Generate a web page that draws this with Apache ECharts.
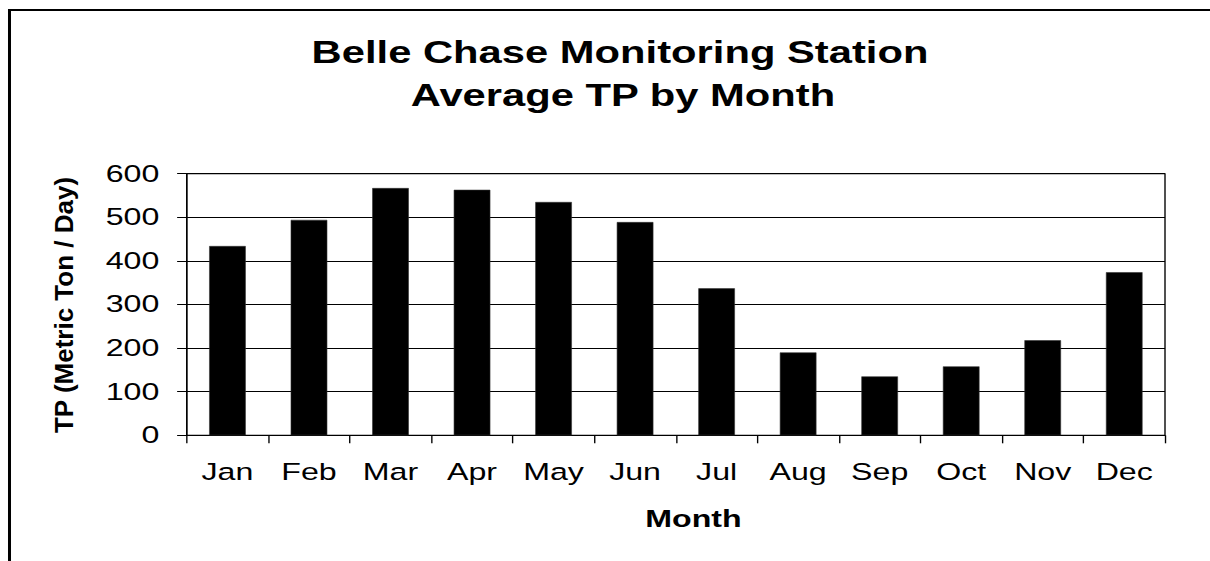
<!DOCTYPE html>
<html>
<head>
<meta charset="utf-8">
<script src="https://cdn.jsdelivr.net/npm/echarts@6/dist/echarts.min.js"></script>
<style>
  html, body { margin: 0; padding: 0; background: #fff; overflow: hidden; }
  #wrap { width: 1210px; height: 561px; overflow: hidden; }
  #chart { width: 884px; height: 561px; transform: scaleX(1.36878); transform-origin: 0 0; }
</style>
</head>
<body>
<div id="wrap"><div id="chart"></div></div>
<script>
const months = ['Jan', 'Feb', 'Mar', 'Apr', 'May', 'Jun', 'Jul', 'Aug', 'Sep', 'Oct', 'Nov', 'Dec'];
const tpValues = [434, 494, 567, 563, 535, 489, 337, 190, 135, 158, 218, 374];
const yMin = 0;
const yMax = 600;
const yInterval = 100;
const titleLines = ['Belle Chase Monitoring Station', 'Average TP by Month'];
const xAxisTitle = 'Month';
const yAxisTitle = 'TP (Metric Ton / Day)';

const S = 1210 / 884; // horizontal stretch applied to the whole drawing
const FONT = "'Liberation Sans', Arial, Helvetica, sans-serif";

const chart = echarts.init(document.getElementById('chart'), null, { renderer: 'svg' });
chart.setOption({
  animation: false,
  backgroundColor: '#fff',
  grid: {
    left: 186.7 / S,
    right: 884 - 1165 / S,
    top: 173.7,
    bottom: 561 - 435.3,
    show: true,
    borderColor: '#000',
    borderWidth: 1,
    backgroundColor: 'transparent'
  },
  xAxis: {
    type: 'category',
    data: months,
    boundaryGap: true,
    axisLine: { show: true, lineStyle: { color: '#000', width: 1 } },
    axisTick: { show: true, length: 8, inside: false, lineStyle: { color: '#000', width: 1 } },
    axisLabel: { color: '#000', fontFamily: FONT, fontSize: 23.5, margin: 25 },
    splitLine: { show: false }
  },
  yAxis: {
    type: 'value',
    min: yMin,
    max: yMax,
    interval: yInterval,
    axisLine: { show: true, lineStyle: { color: '#000', width: 1 } },
    axisTick: { show: true, length: 7, inside: false, lineStyle: { color: '#000', width: 1 } },
    axisLabel: { color: '#000', fontFamily: FONT, fontSize: 23.5, margin: 20 },
    splitLine: { show: true, lineStyle: { color: '#000', width: 1 } }
  },
  series: [{
    type: 'bar',
    data: tpValues,
    barWidth: '45%',
    itemStyle: { color: '#000', borderColor: '#333', borderWidth: 0.5 }
  }],
  graphic: [
    {
      type: 'rect',
      silent: true,
      shape: { x: 9.5 / S, y: 10, width: 2000, height: 2000 },
      style: { fill: 'none', stroke: '#000', lineWidth: 2.2 }
    },
    {
      type: 'text',
      x: 620 / S, y: 53,
      style: { text: titleLines[0], fill: '#000', font: 'bold 30.5px ' + FONT, align: 'center', verticalAlign: 'middle' }
    },
    {
      type: 'text',
      x: 623 / S, y: 96,
      style: { text: titleLines[1], fill: '#000', font: 'bold 30.5px ' + FONT, align: 'center', verticalAlign: 'middle' }
    },
    {
      type: 'text',
      x: 693.5 / S, y: 519,
      style: { text: xAxisTitle, fill: '#000', font: 'bold 23.5px ' + FONT, align: 'center', verticalAlign: 'middle' }
    },
    {
      type: 'text',
      x: 63.5 / S, y: 305,
      rotation: Math.PI / 2,
      scaleX: 1,
      scaleY: 1 / S,
      style: { text: yAxisTitle, fill: '#000', font: 'bold 26px ' + FONT, align: 'center', verticalAlign: 'middle' }
    }
  ]
});
</script>
</body>
</html>
